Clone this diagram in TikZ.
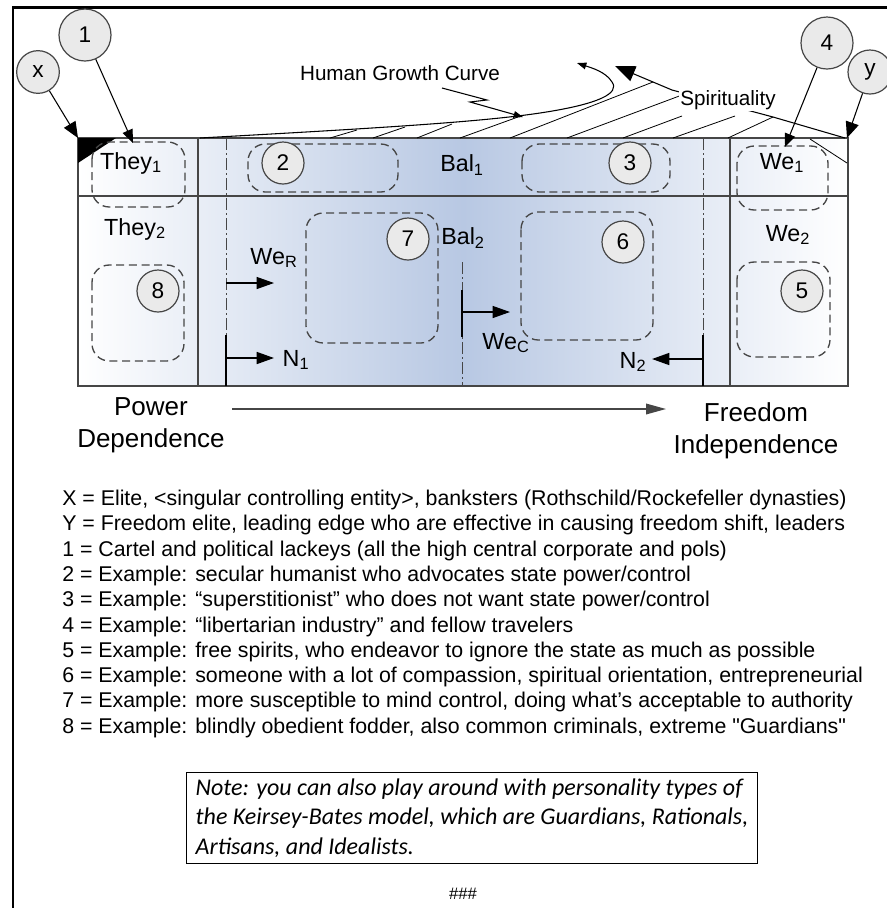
\documentclass[tikz,border=0pt]{standalone}
\usepackage{fontspec}
\setmainfont{Liberation Sans}
\newfontfamily\notefont{Carlito}
\newfontfamily\rawsans[Ligatures=TeXOff]{Liberation Sans}
\usetikzlibrary{arrows.meta}
\definecolor{gline}{RGB}{70,70,70}
\definecolor{cfill}{RGB}{234,234,234}
\definecolor{bluec}{RGB}{184,200,227}
\begin{document}
\begin{tikzpicture}[x=0.75pt,y=-0.75pt,
  frame/.style={draw=black,line width=1.9pt},
  cell/.style={draw=gline,line width=1.1pt},
  ddot/.style={draw=gline,line width=0.7pt,dash pattern=on 9pt off 2.5pt on 1pt off 2.5pt},
  dbox/.style={draw=gline,line width=1pt,dash pattern=on 6pt off 3.5pt,rounded corners=13pt},
  numc/.style={circle,draw=gline,fill=cfill,line width=0.9pt,inner sep=0pt,font=\fontsize{17}{17}\selectfont},
  bigc/.style={numc,minimum size=39pt},
  smc/.style={numc,minimum size=31.5pt},
  lab/.style={inner sep=0pt,font=\fontsize{17.5}{20}\selectfont},
  axlab/.style={inner sep=0pt,align=center,font=\fontsize{19.5}{24}\selectfont},
  small/.style={inner sep=1pt,font=\fontsize{15.5}{18}\selectfont},
  arr/.style={draw=black,line width=0.8pt,-{Triangle[length=10pt,width=8pt]}},
  bigarr/.style={draw=black,line width=0.8pt,-{Triangle[length=12pt,width=10pt]}},
  marr/.style={draw=black,line width=1.2pt,-{Triangle[length=13pt,width=9pt]}},
  bar/.style={draw=black,line width=2.2pt},
  hatch/.style={draw=black,line width=0.6pt},
  listl/.style={anchor=west,inner sep=0pt,font=\fontsize{16}{18}\selectfont}
]
\useasboundingbox (0,0) rectangle (887,908);
\fill[white] (0,0) rectangle (887,908);
% page frame
\draw[frame] (13,908) -- (13,7.5) -- (887,7.5);

% main block
\shade[left color=white,right color=white,middle color=bluec] (78,138) rectangle (848,386);
\draw[cell] (78,138) rectangle (848,386);
\draw[cell] (78,196) -- (848,196);
\draw[cell] (198,138) -- (198,386);
\draw[cell] (730,138) -- (730,386);

% dash-dot lines
\draw[ddot] (226,138) -- (226,386);
\draw[ddot] (703,138) -- (703,386);
\draw[ddot] (462,262) -- (462,386);

% corner marks
\coordinate (TL) at (78,138);
\coordinate (TR) at (847,138);
\fill[black] (78,138) -- (116,138) -- (78,163) -- cycle;
\draw[hatch] (810,139) -- (847,163);

% dashed boxes
\draw[dbox] (92,142) rectangle (185,207);
\draw[dbox] (248,144) rectangle (398,192);
\draw[dbox] (522,144) rectangle (670,192);
\draw[dbox] (737,146) rectangle (828,210);
\draw[dbox] (92,265) rectangle (184,361);
\draw[dbox] (306,213) rectangle (438,343);
\draw[dbox] (521,212) rectangle (653,340);
\draw[dbox] (737,262) rectangle (830,357);

% cell labels
\node[lab] (they1) at (131,163) {They\textsubscript{1}};
\node[lab] (they2) at (135,229) {They\textsubscript{2}};
\node[lab] (we1) at (782,163) {We\textsubscript{1}};
\node[lab] (we2) at (788,235) {We\textsubscript{2}};
\node[lab] (bal1) at (462,165) {Bal\textsubscript{1}};
\node[lab] (bal2) at (463,238) {Bal\textsubscript{2}};
\node[lab] (weR) at (274,258) {We\textsubscript{R}};
\node[lab] (n1) at (296,360) {N\textsubscript{1}};
\node[lab] (weC) at (506,343) {We\textsubscript{C}};
\node[lab] (n2) at (633,362) {N\textsubscript{2}};

% inner numbered circles
\node[smc] (c2) at (283,163) {2};
\node[smc] (c3) at (630,163) {3};
\node[smc] (c7) at (408,239) {7};
\node[smc] (c6) at (623,242) {6};
\node[smc] (c8) at (158,291) {8};
\node[smc] (c5) at (802,291) {5};

% shift arrows
\coordinate (n1b0) at (226,335); \coordinate (n1b1) at (226,386);
\coordinate (n1s) at (226,358); \coordinate (n1e) at (274,358);
\draw[bar] (n1b0) -- (n1b1);
\draw[marr] (n1s) -- (n1e);
\coordinate (wrs) at (226,283); \coordinate (wre) at (274,283);
\draw[marr,line width=0.8pt] (wrs) -- (wre);
\coordinate (wcb0) at (462,290); \coordinate (wcb1) at (462,337);
\coordinate (wcs) at (462,312); \coordinate (wce) at (510,312);
\draw[bar] (wcb0) -- (wcb1);
\draw[marr,line width=0.8pt] (wcs) -- (wce);
\coordinate (n2b0) at (703,335); \coordinate (n2b1) at (703,386);
\coordinate (n2s) at (703,359); \coordinate (n2e) at (652,359);
\draw[bar] (n2b0) -- (n2b1);
\draw[marr] (n2s) -- (n2e);

% hatching (spirituality)
\draw[hatch] (330,138) -- (357,130);
\draw[hatch] (373,138) -- (405,127);
\draw[hatch] (417,138) -- (452,124);
\draw[hatch] (460,138) -- (518,117);
\draw[hatch] (510,138) -- (653,82);
\draw[hatch] (567,138) -- (682,95);
\draw[hatch] (623,138) -- (682,116);
\draw[hatch] (673,138) -- (735,116);
\draw[hatch] (728,138) -- (773,117);
% human growth curve
\draw[black,line width=0.8pt,-{Triangle[length=7pt,width=5pt]}]
  (200,138) .. controls (380,128) and (480,122) .. (540,113)
  .. controls (600,104) and (620,93) .. (612,82)
  .. controls (606,72) and (592,68) .. (577,63);
% spirituality boundary
\coordinate (sp0) at (845,138);
\coordinate (sp1) at (773,117);
\coordinate (sp2) at (672,90);
\coordinate (sp3) at (615,66);
\draw[black,line width=0.8pt,-{Triangle[length=15pt,width=12pt]}] (sp0) -- (sp1) -- (sp2) -- (sp3);
\node[small,fill=white] (spir) at (728,100) {Spirituality};
\node[small] (hgc) at (400,73) {Human Growth Curve};
\coordinate (hz0) at (442,88);
\coordinate (hz1) at (487,100);
\coordinate (hz2) at (470,102);
\coordinate (hz3) at (523,117);
\draw[black,line width=0.8pt,-{Triangle[length=7pt,width=5pt]}] (hz0) -- (hz1) -- (hz2) -- (hz3);

% outer circles and pointers
\node[smc,minimum size=32pt] (cx) at (38,72) {x};
\node[bigc] (c1) at (85,35) {1};
\node[bigc] (c4) at (827,43) {4};
\node[smc,minimum size=33pt] (cy) at (870,72) {y};
\coordinate (t1) at (133,143);
\coordinate (t4) at (785,147);
\draw[bigarr] (cx) -- (TL);
\draw[arr] (c1) -- (t1);
\draw[arr] (c4) -- (t4);
\draw[bigarr] (cy) -- (TR);

% axis
\coordinate (ax0) at (232,409);
\coordinate (ax1) at (666,409);
\draw[draw=gline,line width=1pt,-{Triangle[length=15pt,width=8pt]}] (ax0) -- (ax1);
\node[axlab] (pow) at (151,425) {Power\\Dependence};
\node[axlab] (free) at (756,431) {Freedom\\Independence};

% legend list
\node[listl] (l0) at (62,500) {X = Elite, <singular controlling entity>, banksters (Rothschild/Rockefeller dynasties)};
\node[listl] (l1) at (62,525.3) {Y = Freedom elite, leading edge who are effective in causing freedom shift, leaders};
\node[listl] (l2) at (62,550.6) {1 = Cartel and political lackeys (all the high central corporate and pols)};
\node[listl] (l3) at (62,575.9) {2 = Example: secular humanist who advocates state power/control};
\node[listl] (l4) at (62,601.2) {3 = Example: “superstitionist” who does not want state power/control};
\node[listl] (l5) at (62,626.5) {4 = Example: “libertarian industry” and fellow travelers};
\node[listl] (l6) at (62,651.8) {5 = Example: free spirits, who endeavor to ignore the state as much as possible};
\node[listl] (l7) at (62,677.1) {6 = Example: someone with a lot of compassion, spiritual orientation, entrepreneurial};
\node[listl] (l8) at (62,702.4) {7 = Example: more susceptible to mind control, doing what’s acceptable to authority};
\node[listl] (l9) at (62,727.7) {8 = Example: blindly obedient fodder, also common criminals, extreme {\rawsans"Guardians"}};

% note box
\node[draw=black,line width=0.8pt,align=left,inner xsep=7pt,inner ysep=5pt,
  font=\notefont\itshape\fontsize{18}{22}\selectfont] (note) at (472,818)
  {Note: you can also play around with personality types of\\
   the Keirsey-Bates model, which are Guardians, Rationals,\\
   Artisans, and Idealists.};
\node[inner sep=0pt,font=\fontsize{12.5}{13}\selectfont] (hash) at (463,894) {\#\#\#};
\end{tikzpicture}
\end{document}
